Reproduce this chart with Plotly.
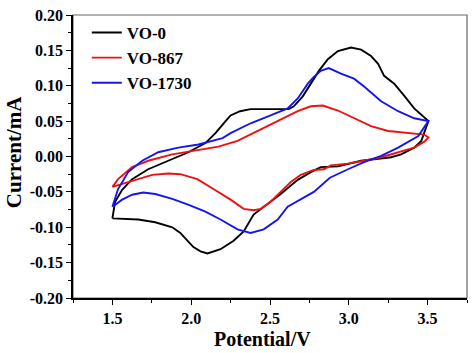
import plotly.graph_objects as go

# VO-0 (black) closed CV loop: anodic then cathodic
vo0_x = [1.50, 1.517, 1.562, 1.625, 1.727, 1.855, 1.982, 2.09, 2.154, 2.218, 2.25, 2.31, 2.377, 2.50, 2.619,
         2.651, 2.708, 2.759, 2.81, 2.867, 2.931, 3.014, 3.078, 3.141, 3.186, 3.224, 3.288, 3.351, 3.415, 3.505,
         3.46, 3.415, 3.332, 3.269, 3.078, 2.931, 2.822, 2.759, 2.676, 2.568, 2.46, 2.396, 2.333, 2.269, 2.186,
         2.103, 2.059, 2.014, 1.976, 1.931, 1.88, 1.772, 1.664, 1.562, 1.50]
vo0_y = [-0.0875, -0.064, -0.047, -0.032, -0.018, -0.006, 0.006, 0.019, 0.033, 0.05, 0.058, 0.064, 0.067, 0.067, 0.067,
         0.071, 0.085, 0.103, 0.121, 0.1375, 0.149, 0.154, 0.151, 0.142, 0.131, 0.114, 0.103, 0.086, 0.068, 0.05,
         0.022, 0.0125, 0.003, -0.001, -0.006, -0.014, -0.015, -0.022, -0.033, -0.053, -0.071, -0.082, -0.106, -0.119, -0.131,
         -0.137, -0.134, -0.128, -0.119, -0.108, -0.100, -0.093, -0.089, -0.0875, -0.0875]

# VO-867 (red)
vo867_x = [1.50, 1.536, 1.625, 1.727, 1.88, 2.008, 2.173, 2.294, 2.46, 2.587, 2.676, 2.759, 2.835, 2.931, 3.033,
           3.141, 3.25, 3.377, 3.479, 3.505, 3.479, 3.415, 3.313, 3.205, 3.097, 2.995, 2.886, 2.842, 2.778, 2.695,
           2.632, 2.568, 2.504, 2.441, 2.396, 2.333, 2.25, 2.141, 2.039, 1.931, 1.855, 1.753, 1.645, 1.562, 1.50]
vo867_y = [-0.043, -0.032, -0.015, -0.006, 0.003, 0.008, 0.014, 0.022, 0.040, 0.054, 0.064, 0.071, 0.072, 0.065, 0.054,
           0.043, 0.036, 0.033, 0.031, 0.027, 0.021, 0.0125, 0.006, -0.001, -0.006, -0.010, -0.0125, -0.018, -0.019, -0.026,
           -0.036, -0.05, -0.064, -0.074, -0.076, -0.074, -0.061, -0.046, -0.032, -0.025, -0.024, -0.026, -0.033, -0.039, -0.043]

# VO-1730 (blue)
vo1730_x = [1.50, 1.536, 1.60, 1.689, 1.791, 1.918, 2.046, 2.199, 2.25, 2.377, 2.504, 2.612, 2.676, 2.74, 2.778,
            2.822, 2.873, 2.95, 3.033, 3.097, 3.205, 3.313, 3.415, 3.505, 3.441, 3.313, 3.205, 3.097, 2.995, 2.88,
            2.778, 2.695, 2.612, 2.549, 2.46, 2.377, 2.294, 2.186, 2.09, 1.98, 1.88, 1.772, 1.696, 1.625, 1.562, 1.50]
vo1730_y = [-0.071, -0.046, -0.022, -0.006, 0.006, 0.0125, 0.017, 0.026, 0.033, 0.047, 0.058, 0.068, 0.082, 0.103, 0.1125,
            0.121, 0.125, 0.117, 0.11, 0.099, 0.078, 0.064, 0.054, 0.05, 0.029, 0.0125, 0.001, -0.008, -0.018, -0.03,
            -0.050, -0.060, -0.071, -0.089, -0.103, -0.108, -0.103, -0.089, -0.078, -0.068, -0.06, -0.053, -0.051, -0.054, -0.061, -0.071]

names = ["VO-0", "VO-867", "VO-1730"]
colors = ["#000000", "#ee1111", "#1515ee"]
x_ticks = [1.5, 2.0, 2.5, 3.0, 3.5]
x_labels = ["1.5", "2.0", "2.5", "3.0", "3.5"]
y_ticks = [-0.20, -0.15, -0.10, -0.05, 0.00, 0.05, 0.10, 0.15, 0.20]
y_labels = ["-0.20", "-0.15", "-0.10", "-0.05", "0.00", "0.05", "0.10", "0.15", "0.20"]

FONT = "Liberation Serif"

fig = go.Figure()
for xs, ys, nm, c in zip([vo0_x, vo867_x, vo1730_x], [vo0_y, vo867_y, vo1730_y], names, colors):
    fig.add_trace(go.Scatter(x=xs, y=ys, mode="lines", name=nm,
                             line=dict(color=c, width=1.9)))

fig.update_layout(
    width=474, height=353,
    margin=dict(l=73, r=7, t=10, b=55),
    paper_bgcolor="white", plot_bgcolor="white",
    font=dict(family=FONT, color="black"),
    showlegend=True,
    legend=dict(x=0.035, y=1.0, xanchor="left", yanchor="top",
                bgcolor="rgba(0,0,0,0)", borderwidth=0,
                font=dict(family=FONT, size=17, color="black", weight="bold"),
                tracegroupgap=0, itemwidth=30),
    shapes=[dict(type="rect", xref="paper", yref="paper", x0=0, y0=0, x1=1, y1=1,
                 line=dict(color="#666666", width=1.2), layer="below")],
    annotations=[
        dict(text="<b>Potential/V</b>", xref="paper", yref="paper", x=0.48, y=-0.145,
             xanchor="center", yanchor="middle", showarrow=False,
             font=dict(family=FONT, size=20, color="black")),
        dict(text="<b>Current/mA</b>", xref="paper", yref="paper", x=-0.15, y=0.515,
             xanchor="center", yanchor="middle", showarrow=False, textangle=-90,
             font=dict(family=FONT, size=21, color="black")),
    ],
)

fig.update_xaxes(range=[1.25, 3.75], tickvals=x_ticks, ticktext=x_labels,
                 showgrid=False, zeroline=False, showline=True, linecolor="black", linewidth=1.5,
                 ticks="outside", ticklen=5, tickwidth=1.3, tickcolor="black",
                 minor=dict(dtick=0.25, tick0=1.25, ticks="outside", ticklen=3, tickwidth=1.2, tickcolor="black", showgrid=False),
                 tickfont=dict(family=FONT, size=16, color="black", weight="bold"))
fig.update_yaxes(range=[-0.20, 0.20], tickvals=y_ticks, ticktext=y_labels,
                 showgrid=False, zeroline=False, showline=True, linecolor="black", linewidth=1.5,
                 ticks="outside", ticklen=5, tickwidth=1.3, tickcolor="black",
                 minor=dict(dtick=0.025, tick0=0, ticks="outside", ticklen=3, tickwidth=1.2, tickcolor="black", showgrid=False),
                 tickfont=dict(family=FONT, size=16, color="black", weight="bold"))

fig.write_html("out.html")
